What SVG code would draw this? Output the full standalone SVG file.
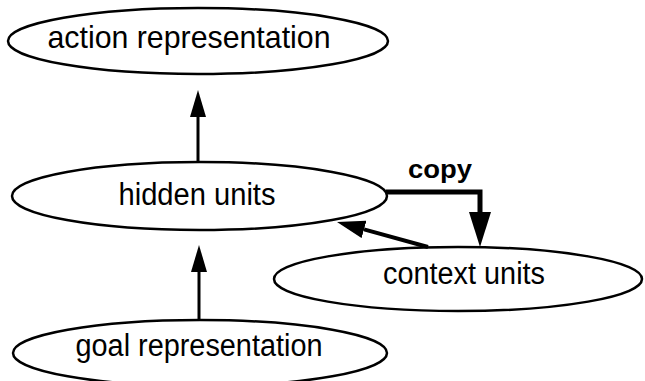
<svg xmlns="http://www.w3.org/2000/svg" width="645" height="381" viewBox="0 0 645 381">
<style>
.node ellipse{fill:#fff;stroke:#000;stroke-width:2.5}
.node text{font-family:"Liberation Sans",Arial,sans-serif;font-size:31px;fill:#000;text-anchor:middle}
.conn{fill:none;stroke:#000}
.lbl{font-family:"Liberation Sans",Arial,sans-serif;font-size:25px;font-weight:bold;fill:#000}
</style>
<defs>
<marker id="ah" markerUnits="userSpaceOnUse" viewBox="0 0 27 16" refX="0" refY="8" markerWidth="27" markerHeight="16" orient="auto">
<path d="M0,0 L27,8 L0,16 z" fill="#000"/>
</marker>
<marker id="ahm" markerUnits="userSpaceOnUse" viewBox="0 0 28 18" refX="0" refY="9" markerWidth="28" markerHeight="18" orient="auto">
<path d="M0,0 L28,9 L0,18 z" fill="#000"/>
</marker>
<marker id="ahb" markerUnits="userSpaceOnUse" viewBox="0 0 35 22" refX="0" refY="11" markerWidth="35" markerHeight="22" orient="auto">
<path d="M0,0 L35,11 L0,22 z" fill="#000"/>
</marker>
</defs>
<rect width="645" height="381" fill="#fff"/>
<g id="action">
<g class="node"><ellipse cx="198" cy="41" rx="190" ry="33"/><text x="189" y="48" style="font-size:32px" textLength="283" lengthAdjust="spacingAndGlyphs">action representation</text></g>
</g>
<g id="hidden">
<g class="node"><ellipse cx="199.5" cy="196" rx="187.5" ry="34"/><text x="197" y="205" textLength="157" lengthAdjust="spacingAndGlyphs">hidden units</text></g>
</g>
<g id="context">
<g class="node"><ellipse cx="458" cy="279" rx="184" ry="32"/><text x="464" y="284" textLength="162" lengthAdjust="spacingAndGlyphs">context units</text></g>
</g>
<g id="goal">
<g class="node"><ellipse cx="200" cy="353" rx="187" ry="33"/><text x="199" y="356" textLength="247" lengthAdjust="spacingAndGlyphs">goal representation</text></g>
</g>
<g id="connectors">
<line class="conn" x1="198" y1="162" x2="198" y2="117" stroke-width="3" marker-end="url(#ah)"/>
<line class="conn" x1="199" y1="319" x2="199" y2="272" stroke-width="3" marker-end="url(#ah)"/>
<path class="conn" d="M386,192 H480 V212" stroke-width="5" marker-end="url(#ahb)"/>
<line class="conn" x1="428" y1="247" x2="364" y2="229.4" stroke-width="4" marker-end="url(#ahm)"/>
<text class="lbl" x="408" y="178" textLength="64" lengthAdjust="spacingAndGlyphs">copy</text>
</g>
</svg>
